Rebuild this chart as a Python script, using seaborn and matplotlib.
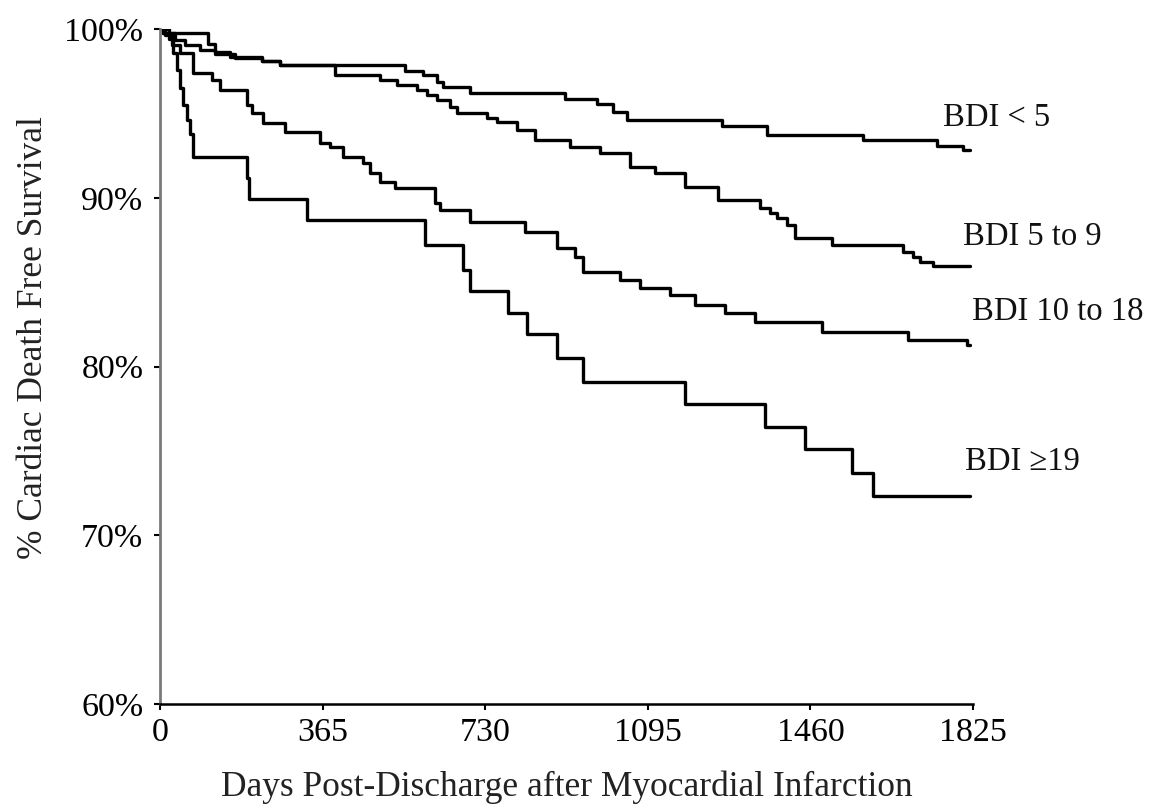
import numpy as np
import pandas as pd
import matplotlib
matplotlib.use("Agg")
import matplotlib.pyplot as plt
import seaborn as sns

# ---- data ----
days_lt5 = [0, 7, 108, 123, 157, 229, 269, 550, 590, 622, 635, 696, 909, 981, 1017,
            1048, 1262, 1363, 1578, 1744, 1803, 1818]
surv_lt5 = [100, 99.76, 99.11, 98.64, 98.34, 98.10, 97.87, 97.51, 97.27, 96.86, 96.56,
            96.21, 95.85, 95.56, 95.08, 94.61, 94.25, 93.72, 93.42, 93.07, 92.83, 92.83]

days_5to9 = [0, 7, 34, 56, 90, 123, 168, 229, 269, 393, 494, 532, 577, 599, 622, 651,
             667, 734, 757, 801, 842, 920, 988, 1055, 1111, 1179, 1253, 1347, 1370,
             1385, 1408, 1426, 1509, 1668, 1690, 1706, 1736, 1818]
surv_5to9 = [100, 99.76, 99.35, 99.05, 98.76, 98.52, 98.28, 98.10, 97.87, 97.27, 96.98,
             96.68, 96.39, 96.09, 95.79, 95.38, 95.02, 94.73, 94.49, 94.01, 93.42, 93.01,
             92.65, 91.82, 91.47, 90.64, 89.87, 89.39, 89.10, 88.80, 88.40, 87.61, 87.20,
             86.79, 86.49, 86.20, 85.95, 85.95]

days_10to18 = [0, 11, 27, 45, 74, 117, 135, 195, 207, 231, 281, 359, 382, 411, 456, 471,
               494, 528, 617, 629, 696, 819, 891, 932, 950, 1033, 1078, 1145, 1201, 1268,
               1336, 1486, 1679, 1812, 1818]
surv_10to18 = [100, 99.64, 99.05, 98.58, 97.39, 96.98, 96.39, 95.50, 95.02, 94.43, 93.90,
               93.24, 93.00, 92.41, 92.06, 91.47, 90.93, 90.58, 89.69, 89.27, 88.56, 87.97,
               87.02, 86.49, 85.60, 85.13, 84.65, 84.24, 83.64, 83.17, 82.64, 82.04, 81.57,
               81.27, 81.27]

days_ge19 = [0, 20, 30, 38, 45, 52, 60, 68, 75, 195, 200, 330, 595, 680, 696, 781, 824,
             891, 950, 1179, 1358, 1448, 1553, 1601, 1818]
surv_ge19 = [100, 99.4, 98.6, 97.6, 96.5, 95.5, 94.6, 93.8, 92.4, 91.2, 89.9, 88.7, 87.2,
             85.7, 84.5, 83.2, 81.9, 80.5, 79.1, 77.8, 76.4, 75.1, 73.7, 72.3, 72.3]

group_names = ["BDI < 5", "BDI 5 to 9", "BDI 10 to 18", "BDI \u226519"]
label_days = [1758, 1803, 1823, 1807]
label_surv = [94.73, 87.67, 83.23, 74.34]

x_ticks = [0, 365, 730, 1095, 1460, 1825]
y_ticks = [60, 70, 80, 90, 100]

# ---- build long table ----
frames = []
for name, d, s in zip(group_names,
                      [days_lt5, days_5to9, days_10to18, days_ge19],
                      [surv_lt5, surv_5to9, surv_10to18, surv_ge19]):
    frames.append(pd.DataFrame({"day": d, "surv": s, "group": name}))
df = pd.concat(frames, ignore_index=True)

sns.set_theme(style="ticks")
plt.rcParams["font.family"] = ["Liberation Serif", "DejaVu Serif"]

fig = plt.figure(figsize=(11.5, 8.11), dpi=100)
ax = fig.add_axes([160 / 1150, 107 / 811, 813 / 1150, 675 / 811])

sns.lineplot(data=df, x="day", y="surv", hue="group", units="group",
             estimator=None, palette=["black"] * 4, drawstyle="steps-post",
             linewidth=2.4, legend=False, ax=ax, sort=False)

ax.set_xlim(0, 1825)
ax.set_ylim(60, 100)
ax.set_xticks(x_ticks)
ax.set_xticklabels([str(v) for v in x_ticks])
ax.set_yticks(y_ticks)
ax.set_yticklabels([f"{v}%" for v in y_ticks])
ax.tick_params(axis="both", direction="out", length=4, width=1.5, labelsize=24.5,
               colors="black", pad=6)
ax.tick_params(axis="y", pad=8)

for side in ["top", "right"]:
    ax.spines[side].set_visible(False)
ax.spines["left"].set_color("#7a7a7a")
ax.spines["left"].set_linewidth(2)
ax.spines["bottom"].set_color("black")
ax.spines["bottom"].set_linewidth(1.8)

ax.set_xlabel("Days Post-Discharge after Myocardial Infarction", fontsize=25.5,
              color="#222222", labelpad=16)
ax.set_ylabel("% Cardiac Death Free Survival", fontsize=25.5, color="#222222",
              labelpad=10)
ax.yaxis.label.set_y(0.543)

for name, xd, yd in zip(group_names, label_days, label_surv):
    ax.text(xd, yd, name, fontsize=23.5, ha="left", va="center", color="#111111",
            clip_on=False)

fig.savefig("out.png", dpi=100, facecolor="white")
